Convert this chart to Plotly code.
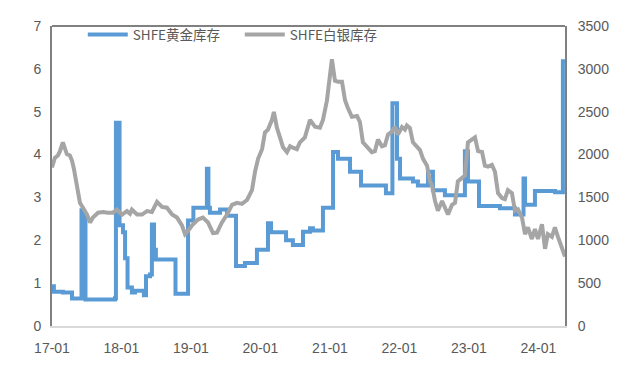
import plotly.graph_objects as go

# ---- data ----
gold_dates = [
    "2017-01-01", "2017-01-11", "2017-02-27", "2017-04-16", "2017-06-02", "2017-06-05",
    "2017-06-13", "2017-06-18", "2017-06-26", "2017-11-28", "2017-12-03", "2017-12-22",
    "2018-01-09", "2018-01-20", "2018-02-02", "2018-02-25", "2018-03-13", "2018-04-29",
    "2018-05-10", "2018-05-31", "2018-06-10", "2018-06-21", "2018-07-01", "2018-10-12",
    "2018-12-17", "2019-01-14", "2019-03-26", "2019-04-03", "2019-04-11", "2019-06-03",
    "2019-07-10", "2019-08-26", "2019-10-12", "2019-12-14", "2020-02-10", "2020-02-26",
    "2020-05-15", "2020-06-20", "2020-08-12", "2020-09-18", "2020-10-03", "2020-11-25",
    "2021-01-17", "2021-02-12", "2021-04-16", "2021-06-13", "2021-10-22", "2021-11-25",
    "2021-12-19", "2022-01-04", "2022-03-13", "2022-04-08", "2022-05-31", "2022-06-26",
    "2022-08-28", "2022-12-11", "2022-12-27", "2023-02-23", "2023-06-13", "2023-08-31",
    "2023-10-15", "2023-10-23", "2023-12-14", "2024-03-29", "2024-05-09", "2024-05-20",
]
gold_values = [
    0.93, 0.80, 0.78, 0.64, 0.64, 2.70,
    1.40, 2.60, 0.62, 0.65, 4.74, 2.35,
    2.19, 1.58, 0.90, 0.78, 0.82, 0.72,
    1.16, 1.20, 2.37, 1.78, 1.55, 0.75,
    2.46, 2.76, 3.67, 2.76, 2.64, 2.72,
    2.57, 1.40, 1.47, 1.78, 2.40, 2.19,
    2.00, 1.89, 2.20, 2.28, 2.23, 2.76,
    4.06, 3.90, 3.60, 3.28, 3.10, 5.20,
    3.90, 3.44, 3.37, 3.28, 3.60, 3.17,
    3.05, 4.08, 3.37, 2.80, 2.75, 2.60,
    3.44, 2.83, 3.15, 3.12, 6.18, 6.18,
]

silver_dates = [
    "2017-01-01", "2017-01-16", "2017-02-01", "2017-02-12", "2017-02-27", "2017-03-10",
    "2017-03-20", "2017-04-05", "2017-04-16", "2017-04-26", "2017-05-12", "2017-05-28",
    "2017-06-13", "2017-07-04", "2017-07-20", "2017-08-04", "2017-08-31", "2017-09-26",
    "2017-10-22", "2017-11-17", "2017-12-08", "2017-12-24", "2018-01-04", "2018-01-30",
    "2018-02-15", "2018-02-25", "2018-03-24", "2018-04-19", "2018-05-05", "2018-05-15",
    "2018-06-10", "2018-07-07", "2018-08-02", "2018-08-28", "2018-09-24", "2018-10-20",
    "2018-11-15", "2018-12-01", "2018-12-17", "2019-01-07", "2019-02-07", "2019-03-05",
    "2019-04-01", "2019-04-27", "2019-05-18", "2019-06-13", "2019-07-10", "2019-08-05",
    "2019-08-31", "2019-09-26", "2019-10-23", "2019-11-18", "2019-12-04", "2019-12-20",
    "2020-01-10", "2020-01-25", "2020-02-10", "2020-03-02", "2020-03-12", "2020-03-28",
    "2020-04-13", "2020-04-29", "2020-05-20", "2020-06-05", "2020-06-20", "2020-07-11",
    "2020-07-27", "2020-08-22", "2020-09-18", "2020-10-14", "2020-11-09", "2020-11-25",
    "2020-12-16", "2021-01-01", "2021-01-11", "2021-01-27", "2021-02-12", "2021-03-05",
    "2021-03-21", "2021-04-05", "2021-04-26", "2021-05-23", "2021-06-07", "2021-06-23",
    "2021-07-14", "2021-08-09", "2021-08-25", "2021-09-10", "2021-10-01", "2021-10-17",
    "2021-11-02", "2021-11-23", "2021-12-08", "2021-12-24", "2022-01-14", "2022-01-30",
    "2022-02-09", "2022-02-25", "2022-03-13", "2022-04-03", "2022-04-19", "2022-05-05",
    "2022-05-26", "2022-06-10", "2022-06-21", "2022-07-07", "2022-07-22", "2022-08-13",
    "2022-08-28", "2022-09-13", "2022-10-04", "2022-10-20", "2022-11-04", "2022-11-25",
    "2022-12-11", "2022-12-27", "2023-01-17", "2023-02-02", "2023-02-18", "2023-03-11",
    "2023-03-26", "2023-04-11", "2023-05-02", "2023-05-18", "2023-06-03", "2023-06-24",
    "2023-07-09", "2023-07-25", "2023-08-15", "2023-08-31", "2023-09-16", "2023-10-07",
    "2023-10-23", "2023-11-07", "2023-11-28", "2023-12-14", "2023-12-30", "2024-01-20",
    "2024-02-05", "2024-02-20", "2024-03-12", "2024-03-28", "2024-04-13", "2024-05-04",
    "2024-05-20",
]
silver_values = [
    1850, 1960, 1990, 2040, 2143, 2080,
    2006, 1990, 1930, 1835, 1600, 1436,
    1380, 1300, 1208, 1265, 1322, 1330,
    1322, 1322, 1357, 1320, 1300, 1340,
    1310, 1357, 1300, 1300, 1320, 1340,
    1330, 1448, 1390, 1380, 1300, 1265,
    1174, 1072, 1110, 1174, 1242, 1265,
    1208, 1083, 1090, 1208, 1300, 1413,
    1436, 1425, 1470, 1585, 1800, 1950,
    2063, 2257, 2291, 2405, 2497, 2314,
    2200, 2086, 2029, 2097, 2080, 2063,
    2143, 2200, 2405, 2325, 2314, 2405,
    2633, 2941, 3112, 2861, 2850, 2850,
    2633, 2542, 2440, 2450, 2383, 2143,
    2086, 2029, 2040, 2177, 2097, 2110,
    2234, 2268, 2325, 2234, 2320, 2291,
    2340, 2310, 2143, 2086, 2052, 1950,
    1870, 1687, 1642, 1459, 1345, 1459,
    1380, 1300, 1413, 1436, 1687, 1722,
    1756, 2143, 2177, 2200, 2040, 2030,
    1870, 1860, 1880, 1800, 1550, 1493,
    1480, 1585, 1550, 1345, 1360, 1265,
    1072, 1151, 1015, 1130, 1015, 1186,
    900, 1072, 1040, 1151, 1040, 890,
    810,
]

x_tick_vals = ["2017-01-01", "2018-01-01", "2019-01-01", "2020-01-01",
               "2021-01-01", "2022-01-01", "2023-01-01", "2024-01-01"]
x_tick_text = ["17-01", "18-01", "19-01", "20-01", "21-01", "22-01", "23-01", "24-01"]
left_ticks = [0, 1, 2, 3, 4, 5, 6, 7]
right_ticks = [0, 500, 1000, 1500, 2000, 2500, 3000, 3500]

# ---- figure ----
BLUE = "#5B9BD5"
GRAY = "#A5A5A5"
TXT = "#595959"
FONT = "Liberation Sans, Noto Sans CJK SC, sans-serif"

fig = go.Figure()
fig.add_trace(go.Scatter(
    x=gold_dates, y=gold_values, name="SHFE黄金库存", mode="lines",
    line=dict(color=BLUE, width=4, shape="hv"), yaxis="y",
))
fig.add_trace(go.Scatter(
    x=silver_dates, y=silver_values, name="SHFE白银库存", mode="lines",
    line=dict(color=GRAY, width=4), yaxis="y2",
))

fig.update_layout(
    width=625, height=372,
    margin=dict(l=44, r=68, t=11, b=54),
    paper_bgcolor="white", plot_bgcolor="white",
    font=dict(family=FONT, size=14, color=TXT),
    showlegend=True,
    legend=dict(
        orientation="h", x=0.06, xanchor="left", y=1.023, yanchor="top",
        font=dict(family="Noto Sans CJK SC, sans-serif", size=13.5, color=TXT),
        bgcolor="rgba(0,0,0,0)", itemwidth=40, traceorder="normal",
        entrywidth=102, entrywidthmode="pixels",
    ),
    xaxis=dict(
        type="date", range=["2017-01-01", "2024-05-20"],
        tickmode="array", tickvals=x_tick_vals, ticktext=x_tick_text,
        showgrid=False, zeroline=False,
        showline=True, linecolor="#D9D9D9", linewidth=2,
        ticks="", ticklabelstandoff=8,
    ),
    yaxis=dict(
        range=[0, 7], tickmode="array", tickvals=left_ticks,
        showgrid=False, zeroline=False,
        showline=True, linecolor="#808080", linewidth=2,
        ticks="", ticklabelstandoff=6,
    ),
    yaxis2=dict(
        range=[0, 3500], tickmode="array", tickvals=right_ticks,
        overlaying="y", side="right",
        showgrid=False, zeroline=False,
        showline=True, linecolor="#808080", linewidth=2,
        ticks="", ticklabelstandoff=8,
    ),
    shapes=[dict(type="line", xref="paper", yref="paper", x0=0, x1=1, y0=1, y1=1,
                 line=dict(color="#808080", width=2))],
)

fig.write_html("out.html")
